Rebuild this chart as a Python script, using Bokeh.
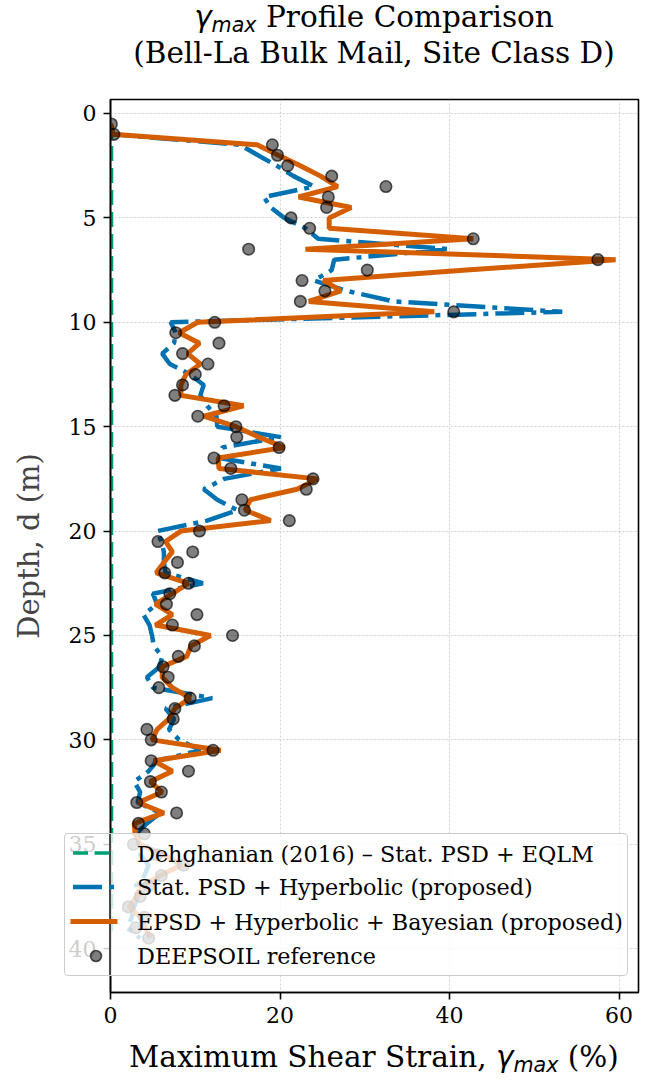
from bokeh.plotting import figure
from bokeh.models import Range1d, FixedTicker, Div
from bokeh.layouts import column
from bokeh.embed import file_html
from bokeh.resources import INLINE

depth = [0.5, 1.0, 1.5, 2.0, 2.5, 3.0, 3.5, 4.0, 4.5, 5.0,
         5.5, 6.0, 6.5, 7.0, 7.5, 8.0, 8.5, 9.0, 9.5, 10.0,
         10.5, 11.0, 11.5, 12.0, 12.5, 13.0, 13.5, 14.0, 14.5, 15.0,
         15.5, 16.0, 16.5, 17.0, 17.5, 18.0, 18.5, 19.0, 19.5, 20.0,
         20.5, 21.0, 21.5, 22.0, 22.5, 23.0, 23.5, 24.0, 24.5, 25.0,
         25.5, 26.0, 26.5, 27.0, 27.5, 28.0, 28.5, 29.0, 29.5, 30.0,
         30.5, 31.0, 31.5, 32.0, 32.5, 33.0, 33.5, 34.0, 34.5, 35.0,
         35.5, 36.0, 36.5, 37.0, 37.5, 38.0, 38.5, 39.0, 39.5]

deepsoil = [0.1, 0.4, 19.1, 19.7, 20.9, 26.1, 32.5, 25.7, 25.5, 21.3,
            23.5, 42.8, 16.3, 57.5, 30.3, 22.6, 25.3, 22.4, 40.5, 12.3,
            7.7, 12.8, 8.5, 11.5, 10.0, 8.5, 7.6, 13.4, 10.3, 14.8,
            14.9, 19.9, 12.2, 14.2, 23.9, 23.1, 15.5, 15.8, 21.1, 10.5,
            5.6, 9.7, 7.9, 6.4, 9.2, 7.0, 6.6, 10.2, 7.3, 14.4,
            9.9, 8.0, 6.2, 6.8, 5.7, 9.4, 7.6, 7.4, 4.3, 4.8,
            12.1, 4.8, 9.2, 4.7, 6.0, 3.1, 7.8, 3.3, 4.0, 2.7,
            5.5, 8.6, 6.0, 4.5, 3.5, 2.1, 4.0, 3.0, 4.5]

epsd = [0.0, 0.3, 17.3, 19.8, 22.4, 24.8, 26.8, 22.2, 28.4, 25.8,
        25.8, 42.8, 23.0, 59.6, 42.0, 25.1, 27.2, 23.4, 38.2, 10.3,
        8.1, 10.5, 9.1, 10.6, 8.9, 8.3, 8.3, 15.7, 11.0, 14.8,
        17.5, 20.5, 12.7, 12.8, 24.4, 22.0, 16.5, 15.9, 18.9, 8.3,
        6.5, 7.3, 6.3, 5.4, 9.2, 7.3, 5.3, 7.3, 5.3, 11.8,
        9.5, 9.0, 6.1, 6.1, 7.3, 9.4, 7.6, 6.9, 5.5, 4.9,
        13.0, 5.1, 7.3, 4.7, 6.1, 3.3, 6.3, 2.8, 2.9, 3.5,
        6.3, 8.3, 5.9, 3.7, 3.1, 2.2, 3.5, 4.1, 4.7]

stat_psd = [0.0, 0.3, 15.3, 17.4, 19.6, 21.6, 24.0, 18.1, 18.9, 20.5,
            23.0, 24.5, 40.0, 26.4, 26.1, 24.0, 27.9, 33.4, 53.3, 7.1,
            7.7, 7.5, 6.1, 7.0, 9.4, 11.0, 10.6, 11.4, 12.5, 12.6,
            20.1, 13.2, 12.8, 20.1, 13.4, 11.0, 12.6, 15.0, 11.4, 5.5,
            6.0, 6.3, 6.3, 6.5, 10.9, 5.0, 5.5, 3.9, 4.6, 4.9,
            5.1, 6.1, 5.8, 4.3, 5.0, 12.0, 6.5, 7.5, 6.9, 8.1,
            10.6, 5.5, 4.5, 2.8, 3.5, 3.2, 5.9, 4.3, 3.0, 3.3,
            3.5, 4.5, 4.0, 3.0, 3.2, 2.8, 2.5, 2.0, 3.5]

dehghanian = [0.15, 0.15, 0.15, 0.15, 0.15, 0.15, 0.15, 0.15, 0.15, 0.15,
              0.15, 0.15, 0.15, 0.15, 0.15, 0.15, 0.15, 0.15, 0.15, 0.15,
              0.15, 0.15, 0.15, 0.15, 0.15, 0.15, 0.15, 0.15, 0.15, 0.15,
              0.15, 0.15, 0.15, 0.15, 0.15, 0.15, 0.15, 0.15, 0.15, 0.15,
              0.15, 0.15, 0.15, 0.15, 0.15, 0.15, 0.15, 0.15, 0.15, 0.15,
              0.15, 0.15, 0.15, 0.15, 0.15, 0.15, 0.15, 0.15, 0.15, 0.15,
              0.15, 0.15, 0.15, 0.15, 0.15, 0.15, 0.15, 0.15, 0.15, 0.15,
              0.15, 0.15, 0.15, 0.15, 0.15, 0.15, 0.15, 0.15, 0.15]

x_ticks = [0, 20, 40, 60]
y_ticks = [0, 5, 10, 15, 20, 25, 30, 35, 40]

labels = ["Dehghanian (2016) \u2013 Stat. PSD + EQLM",
          "Stat. PSD + Hyperbolic (proposed)",
          "EPSD + Hyperbolic + Bayesian (proposed)",
          "DEEPSOIL reference"]

SERIF = "DejaVu Serif"
C_GREEN, C_BLUE, C_ORANGE = "#009E73", "#0072B2", "#D55E00"

p = figure(width=648, height=947, output_backend="svg", toolbar_location=None,
           x_range=Range1d(0, 62.3), y_range=Range1d(42.1, -0.67),
           min_border_left=110, min_border_right=10, min_border_top=9,
           min_border_bottom=45)
p.title = None
p.outline_line_color = "black"
p.outline_line_width = 1.6

for ax in (p.xaxis[0], p.yaxis[0]):
    ax.major_label_text_font = SERIF
    ax.major_label_text_font_size = "22px"
    ax.major_label_text_color = "black"
    ax.axis_line_width = 1.6
    ax.major_tick_line_width = 1.6
    ax.major_tick_in = 0
    ax.major_tick_out = 7
    ax.minor_tick_line_color = None
    ax.major_label_standoff = 7

p.xaxis.ticker = FixedTicker(ticks=x_ticks)
p.yaxis.ticker = FixedTicker(ticks=y_ticks)
p.yaxis.axis_label = "Depth, d (m)"
p.yaxis.axis_label_text_font = SERIF
p.yaxis.axis_label_text_font_size = "29px"
p.yaxis.axis_label_text_font_style = "normal"
p.yaxis.axis_label_standoff = 20

p.xgrid.ticker = FixedTicker(ticks=x_ticks)
p.ygrid.ticker = FixedTicker(ticks=y_ticks)
for g in (p.xgrid[0], p.ygrid[0]):
    g.grid_line_color = "#b0b0b0"
    g.grid_line_alpha = 0.6
    g.grid_line_width = 1
    g.grid_line_dash = "2 2"

p.line(dehghanian, depth, line_color=C_GREEN, line_width=3, line_dash="15 7")
p.line(stat_psd, depth, line_color=C_BLUE, line_width=4.5, line_dash="29 7 5 7")
p.line(epsd, depth, line_color=C_ORANGE, line_width=5)
p.scatter(deepsoil, depth, size=11.5, fill_color="black", fill_alpha=0.5,
          line_color="black", line_alpha=0.65, line_width=1.6)

# ---- legend (HTML overlay so that it may extend over the tick labels, as in the reference)
def leg_text(txt, y):
    return ("<text x=\"72\" y=\"%s\" dominant-baseline=\"central\" "
            "style=\"font-family:'DejaVu Serif',serif; font-size:22.3px; fill:black\">%s</text>"
            % (y, txt))

legend_svg = (
    "<svg width=\"562\" height=\"141\" style=\"display:block\">"
    "<line x1=\"45\" y1=\"0\" x2=\"45\" y2=\"141\" stroke=\"#222\" stroke-width=\"1.6\"/>"
    "<line x1=\"8\" y1=\"19\" x2=\"50\" y2=\"19\" stroke=\"%s\" stroke-width=\"3.5\" stroke-dasharray=\"15 6.5\"/>"
    "<line x1=\"8\" y1=\"53\" x2=\"50\" y2=\"53\" stroke=\"%s\" stroke-width=\"4.5\" stroke-dasharray=\"29 7 5 7\"/>"
    "<line x1=\"8\" y1=\"87.5\" x2=\"50\" y2=\"87.5\" stroke=\"%s\" stroke-width=\"5\" stroke-linecap=\"square\"/>"
    "<circle cx=\"31\" cy=\"122\" r=\"5.5\" fill=\"black\" fill-opacity=\"0.5\" stroke=\"black\" "
    "stroke-opacity=\"0.65\" stroke-width=\"1.6\"/>" % (C_GREEN, C_BLUE, C_ORANGE)
    + leg_text(labels[0], 19.5) + leg_text(labels[1], 53) + leg_text(labels[2], 88)
    + leg_text(labels[3], 121.5) + "</svg>")

legend_html = ("<div style=\"position:relative; width:0; height:0; overflow:visible\">"
               "<div style=\"position:absolute; left:64px; top:-204px; width:564px; height:143px; "
               "box-sizing:border-box; border:1px solid #cccccc; border-radius:4px; "
               "font-family:'DejaVu Serif',serif; "
               "background:rgba(255,255,255,0.8); z-index:10\">" + legend_svg + "</div></div>")

GAMMA = ("<span style=\"font-family:'DejaVu Sans'; font-style:italic\">\u03b3</span>"
         "<span style=\"font-family:'DejaVu Sans'; font-style:italic; font-size:0.7em; "
         "position:relative; top:0.22em\">max</span>")

title_html = ("<div style=\"font-family:'DejaVu Serif'; font-size:29.5px; line-height:33px; "
              "text-align:center; box-sizing:content-box; margin:0 0 0 100px; padding:1px 0 0 0; "
              "color:black; white-space:nowrap; width:548px\">"
              + GAMMA + " Profile Comparison<br>(Bell-La Bulk Mail, Site Class D)</div>")

xlabel_html = (legend_html +
               "<div style=\"font-family:'DejaVu Serif'; font-size:29.5px; line-height:40px; "
               "text-align:center; box-sizing:content-box; margin:0 0 0 100px; padding:0; "
               "color:black; white-space:nowrap; width:548px\">Maximum Shear Strain, "
               + GAMMA + " (%)</div>")

title_div = Div(text=title_html, width=648, height=90, margin=0)
xlabel_div = Div(text=xlabel_html, width=648, height=45, margin=0)

layout = column(title_div, p, xlabel_div, spacing=0)

open("out.html", "w").write(file_html(layout, INLINE))
